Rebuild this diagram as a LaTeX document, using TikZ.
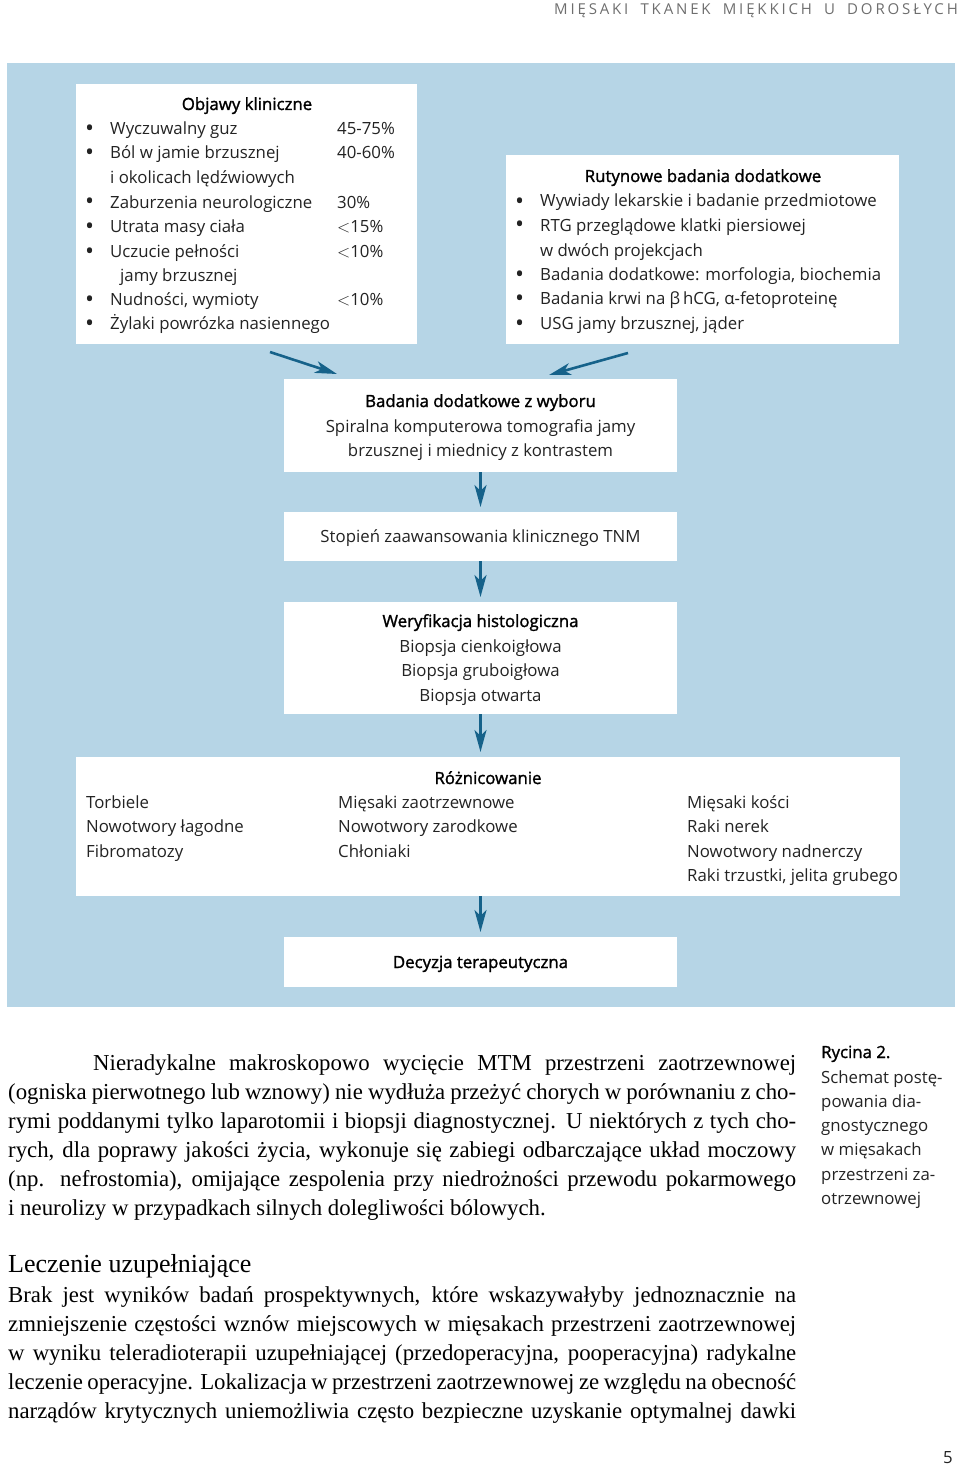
\documentclass[tikz,border=0pt]{standalone}
\usepackage{fontspec}
\setmainfont{Liberation Serif}
\newfontfamily\boxfont{Open Sans}
\newfontfamily\titlefont[FakeBold=1.5]{Open Sans}
\newfontfamily\headfont[LetterSpace=19,WordSpace=1.8]{Open Sans}
\usepackage{tikz}
\usetikzlibrary{arrows.meta}
\usepackage{xcolor}
\definecolor{panelblue}{RGB}{182,213,230}
\definecolor{arrowblue}{RGB}{22,98,138}
\definecolor{headgray}{RGB}{110,110,110}
\definecolor{textgray}{RGB}{35,35,35}
\newcommand{\lt}{$<$}

\begin{document}
\begin{tikzpicture}[x=1pt,y=-1pt,
    box/.style={fill=white,inner sep=0pt,outer sep=0pt},
    item/.style={anchor=base west,inner sep=0pt,text=textgray,font=\boxfont\fontsize{16.8}{20}\selectfont},
    dot/.style={anchor=base west,inner sep=0pt,text=textgray,font=\boxfont\fontsize{24}{20}\selectfont},
    ctr/.style={anchor=base,inner sep=0pt,text=textgray,font=\boxfont\fontsize{16.8}{20}\selectfont},
    boxtitle/.style={anchor=base,inner sep=0pt,text=black,font=\titlefont\fontsize{16.8}{20}\selectfont},
    body/.style={anchor=base west,inner sep=0pt,text=black,font=\fontsize{22.8}{29}\selectfont},
    arr/.style={arrowblue,line width=2.6pt,-{Stealth[length=22pt,width=12pt,inset=6pt]}}]
    \useasboundingbox (0,0) rectangle (960,1466);

    % Running head
    \node[anchor=base east,inner sep=0pt,text=headgray,font=\headfont\fontsize{15}{15}\selectfont] (head) at (958,15) {MIĘSAKI TKANEK MIĘKKICH U DOROSŁYCH};

    % Panel and boxes
    \fill[panelblue] (7,63) rectangle (955,1007);
    \node[box,minimum width=341pt,minimum height=260pt] (objawy) at (246.5,214) {};
    \node[box,minimum width=393pt,minimum height=189pt] (rutyna) at (702.5,249.5) {};
    \node[box,minimum width=393pt,minimum height=93pt] (wybor) at (480.5,425.5) {};
    \node[box,minimum width=393pt,minimum height=49pt] (stopien) at (480.5,536.5) {};
    \node[box,minimum width=393pt,minimum height=112pt] (weryf) at (480.5,658) {};
    \node[box,minimum width=824pt,minimum height=139pt] (roznic) at (488,826.5) {};
    \node[box,minimum width=393pt,minimum height=50pt] (decyzja) at (480.5,962) {};

    % Objawy kliniczne
    \node[boxtitle] (objawy-t) at (247,110) {Objawy kliniczne};
    \foreach \y/\txt/\pct in {135/Wyczuwalny guz/45-75\%, 159/Ból w jamie brzusznej/40-60\%,
        208/Zaburzenia neurologiczne/30\%, 232/Utrata masy ciała/\lt15\%,
        257/Uczucie pełności/\lt10\%, 305/{Nudności, wymioty}/\lt10\%, 329/Żylaki powrózka nasiennego/}
    {
        \node[dot] at (85,\y+2) {•};
        \node[item] at (110,\y) {\txt};
        \node[item] at (337,\y) {\pct};
    }
    \node[item] (objawy-c1) at (110,184) {i okolicach lędźwiowych};
    \node[item] (objawy-c2) at (120,281) {jamy brzusznej};

    % Rutynowe badania dodatkowe
    \node[boxtitle] (rutyna-t) at (703,182) {Rutynowe badania dodatkowe};
    \foreach \y/\txt in {207/Wywiady lekarskie i badanie przedmiotowe, 231/RTG przeglądowe klatki piersiowej,
        280/{Badania dodatkowe: morfologia, biochemia}, 304/{Badania krwi na β\,hCG, α-fetoproteinę},
        329/{USG jamy brzusznej, jąder}}
    {
        \node[dot] at (515,\y+2) {•};
        \node[item] at (540,\y) {\txt};
    }
    \node[item] (rutyna-c) at (540,256) {w dwóch projekcjach};

    % Badania z wyboru
    \node[boxtitle] (wybor-t) at (480.5,407) {Badania dodatkowe z wyboru};
    \node[ctr] (wybor-1) at (480.5,432) {Spiralna komputerowa tomografia jamy};
    \node[ctr] (wybor-2) at (480.5,456) {brzusznej i miednicy z kontrastem};

    \node[ctr] (stopien-t) at (480.5,542) {Stopień zaawansowania klinicznego TNM};

    % Weryfikacja
    \node[boxtitle] (weryf-t) at (480.5,627) {Weryfikacja histologiczna};
    \foreach \y/\txt in {652/Biopsja cienkoigłowa, 676/Biopsja gruboigłowa, 701/Biopsja otwarta}
        \node[ctr] at (480.5,\y) {\txt};

    % Różnicowanie
    \node[boxtitle] (roznic-t) at (488,784) {Różnicowanie};
    \foreach \y/\a/\b/\c in {808/Torbiele/Mięsaki zaotrzewnowe/Mięsaki kości,
        832/Nowotwory łagodne/Nowotwory zarodkowe/Raki nerek,
        857/Fibromatozy/Chłoniaki/Nowotwory nadnerczy}
    {
        \node[item] at (86,\y) {\a};
        \node[item] at (338,\y) {\b};
        \node[item] at (687,\y) {\c};
    }
    \node[item] (roznic-4) at (687,881) {Raki trzustki, jelita grubego};

    \node[boxtitle] (decyzja-t) at (480.5,968) {Decyzja terapeutyczna};

    % Arrows
    \draw[arr] ([xshift=23.5pt,yshift=-8pt]objawy.south) -- ([xshift=-143.5pt,yshift=5pt]wybor.north);
    \draw[arr] ([xshift=-74.5pt,yshift=-9pt]rutyna.south) -- ([xshift=68.5pt,yshift=4pt]wybor.north);
    \draw[arr] (wybor.south) -- ([yshift=5pt]stopien.north);
    \draw[arr] (stopien.south) -- ([yshift=5pt]weryf.north);
    \coordinate (roznic-in) at (weryf.south |- roznic.north);
    \draw[arr] (weryf.south) -- ([yshift=5pt]roznic-in);
    \coordinate (roznic-out) at (decyzja.north |- roznic.south);
    \draw[arr] (roznic-out) -- ([yshift=5pt]decyzja.north);

    % Body text
    \node[body] (p1-1) at (93,1070) {\makebox[703pt][s]{Nieradykalne makroskopowo wycięcie MTM przestrzeni zaotrzewnowej}};
    \foreach \y/\txt in {1099/{(ogniska pierwotnego lub wznowy) nie wydłuża przeżyć chorych w porównaniu z cho-},
        1128/{rymi poddanymi tylko laparotomii i biopsji diagnostycznej. U niektórych z tych cho-},
        1157/{rych, dla poprawy jakości życia, wykonuje się zabiegi odbarczające układ moczowy},
        1186/{(np. nefrostomia), omijające zespolenia przy niedrożności przewodu pokarmowego}}
        \node[body] at (8,\y) {\makebox[788pt][s]{\txt}};
    \node[body] (p1-6) at (8,1215) {i neurolizy w przypadkach silnych dolegliwości bólowych.};

    \node[body,font=\fontsize{26}{30}\selectfont] (leczenie) at (8,1272) {Leczenie uzupełniające};
    \foreach \y/\txt in {1302/{Brak jest wyników badań prospektywnych, które wskazywałyby jednoznacznie na},
        1331/{zmniejszenie częstości wznów miejscowych w mięsakach przestrzeni zaotrzewnowej},
        1360/{w wyniku teleradioterapii uzupełniającej (przedoperacyjna, pooperacyjna) radykalne},
        1389/{leczenie operacyjne. Lokalizacja w przestrzeni zaotrzewnowej ze względu na obecność},
        1418/{narządów krytycznych uniemożliwia często bezpieczne uzyskanie optymalnej dawki}}
        \node[body] at (8,\y) {\makebox[788pt][s]{\txt}};

    % Caption
    \node[item,text=black,font=\titlefont\fontsize{16.8}{20}\selectfont] (rycina) at (821,1058) {Rycina 2.};
    \foreach \y/\txt in {1083/Schemat postę-, 1107/powania dia-, 1131/gnostycznego, 1155/w mięsakach,
        1180/przestrzeni za-, 1204/otrzewnowej}
        \node[item] at (821,\y) {\txt};

    \node[ctr] (page) at (948,1463) {5};
\end{tikzpicture}
\end{document}
